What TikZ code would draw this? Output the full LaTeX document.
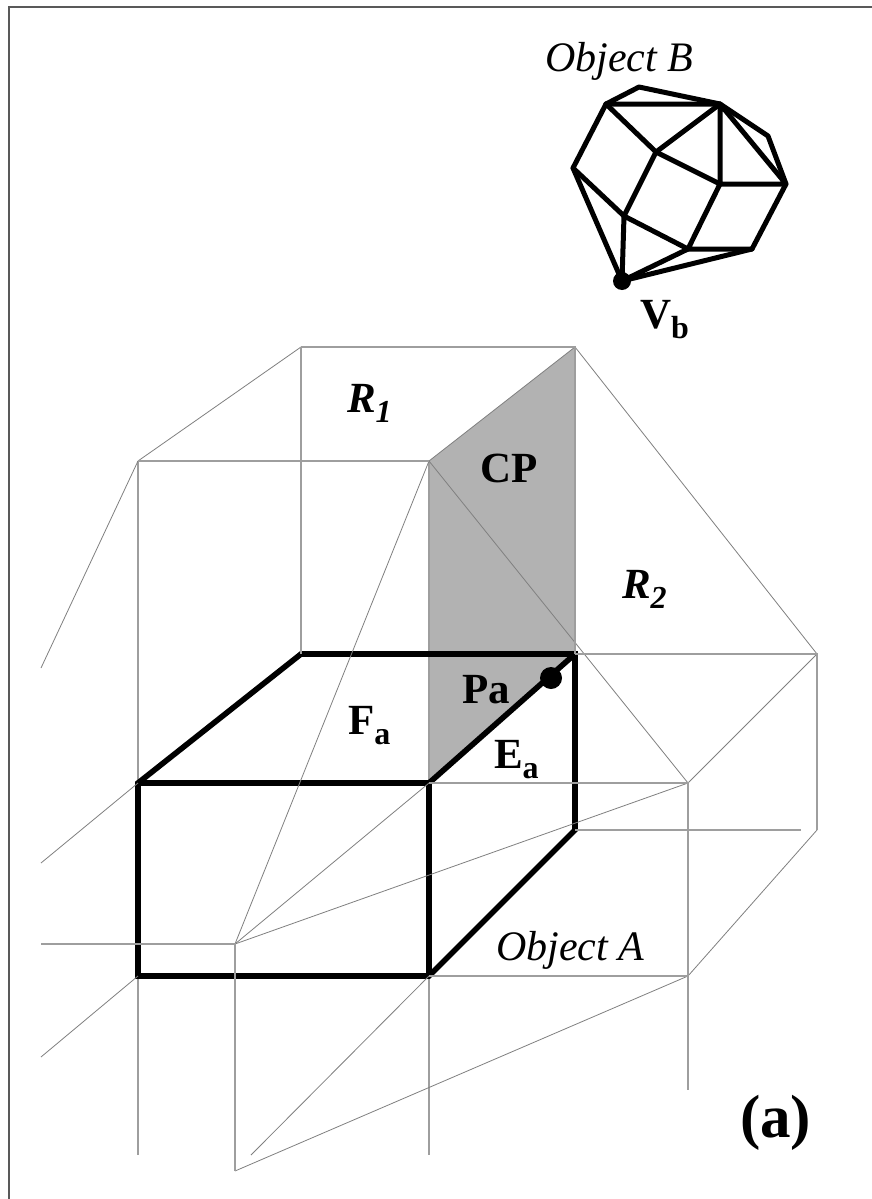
\documentclass[tikz,border=0pt]{standalone}
\usepackage{fontspec}
\setmainfont{Liberation Serif}
\newcommand{\lblB}[2]{{\fontsize{43}{43}\selectfont\bfseries #1}\raisebox{-10pt}{\fontsize{32}{32}\selectfont\bfseries #2}}
\newcommand{\lblR}[2]{{\fontsize{43}{43}\selectfont\bfseries\itshape #1}\raisebox{-10pt}{\fontsize{32}{32}\selectfont\bfseries\itshape #2}}
\tikzset{
  thin line/.style={draw=black!50,line width=0.8pt},
  ortho line/.style={draw=black!38,line width=1.2pt},
  thick line/.style={draw=black,line width=5.6pt,line join=miter},
  poly/.style={draw=black,line width=5pt,line cap=round,line join=round},
  lbl/.style={anchor=base west,inner sep=0pt,outer sep=0pt},
  dot/.style={circle,fill=black,inner sep=0pt,minimum size=#1},
  frame line/.style={draw=black!65,line width=1.6pt}
}
\begin{document}
\begin{tikzpicture}[x=1pt,y=-1pt]
\useasboundingbox (0,0) rectangle (872,1199);
\fill[white] (0,0) rectangle (872,1199);
\coordinate (fa) at (9,1199);
\coordinate (fb) at (9,7);
\coordinate (fc) at (872,7);
\draw[frame line] (fa) -- (fb) -- (fc);
% named points
\foreach \n/\x/\y in {a/138/461,b/301/347,c/575/347,d/429/461,e/301/654,f/575/654,g/817/654,
 h/138/783,i/429/783,j/688/783,k/575/830,l/817/830,m/801/830,n/138/976,o/429/976,p/688/976,
 q/235/944,r/235/1171,s/41/668,t/41/863,u/41/1057,v/41/944,w/251/1155,x/138/1155,y/429/1155,z/688/1090}
 {\coordinate (\n) at (\x,\y);}
% shaded plane
\fill[black!30] (d) -- (c) -- (f) -- (i) -- cycle;
% thin lines hidden by the box edges
\draw[ortho line] (a) -- (h);
\draw[ortho line] (d) -- (i);
\draw[ortho line] (n) -- (x);
\draw[ortho line] (o) -- (y);
% box
\draw[thick line] (h) -- (e) -- (f) -- (k) -- (o) -- (n) -- cycle;
\draw[thick line] (h) -- (i) -- (f);
\draw[thick line] (i) -- (o);
% thin lines: slanted
\draw[thin line] (s) -- (a) -- (b);
\draw[thin line] (c) -- (g) -- (j) -- (d) -- (c);
\draw[thin line] (l) -- (p);
\draw[thin line] (t) -- (h);
\draw[thin line] (u) -- (n);
\draw[thin line] (r) -- (p);
\draw[thin line] (q) -- (d);
\draw[thin line] (q) -- (i);
\draw[thin line] (q) -- (j);
\draw[thin line] (w) -- (o);
% thin lines: horizontal and vertical
\draw[ortho line] (b) -- (c) -- (f);
\draw[ortho line] (a) -- (d);
\draw[ortho line] (b) -- (e);
\draw[ortho line] (f) -- (g) -- (l);
\draw[ortho line] (p) -- (o);
\draw[ortho line] (v) -- (q) -- (r);
\draw[ortho line] (i) -- (j) -- (z);
\draw[ortho line] (k) -- (m);
% Object B
\foreach \n/\x/\y in {A/639/87,B/606/104,C/720/104,D/768/136,E/786/184,F/720/184,G/656/152,H/573/168,I/624/216,J/688/249,K/752/249,L/622/281}
 {\coordinate (\n) at (\x,\y);}
\draw[poly] (B) -- (A) -- (C) -- (D) -- (E) -- (K) -- (L) -- (H) -- cycle;
\draw[poly] (B) -- (C) -- (F) -- (E) -- (C);
\draw[poly] (B) -- (G) -- (C);
\draw[poly] (G) -- (F) -- (J) -- (K);
\draw[poly] (G) -- (I) -- (H);
\draw[poly] (I) -- (L) -- (J) -- (I);
\node[dot=18pt] (vb) at (L) {};
\node[dot=22pt] (pa) at (551,678) {};
% labels
\node[lbl] (objb) at (545,71) {\fontsize{42}{42}\selectfont\itshape Object B};
\node[lbl] (obja) at (496,960) {\fontsize{42}{42}\selectfont\itshape Object A};
\node[lbl] (lvb) at (640,328) {\lblB{V}{b}};
\node[lbl] (lr1) at (347,412) {\lblR{R}{1}};
\node[lbl] (lr2) at (622,598) {\lblR{R}{2}};
\node[lbl] (lcp) at (480,482) {\fontsize{43}{43}\selectfont\bfseries CP};
\node[lbl] (lpa) at (462,703) {\fontsize{43}{43}\selectfont\bfseries Pa};
\node[lbl] (lfa) at (348,734) {\lblB{F}{a}};
\node[lbl] (lea) at (494,768) {\lblB{E}{a}};
\node[lbl] (la) at (740,1137) {\fontsize{61}{61}\selectfont\bfseries (a)};
\end{tikzpicture}
\end{document}
